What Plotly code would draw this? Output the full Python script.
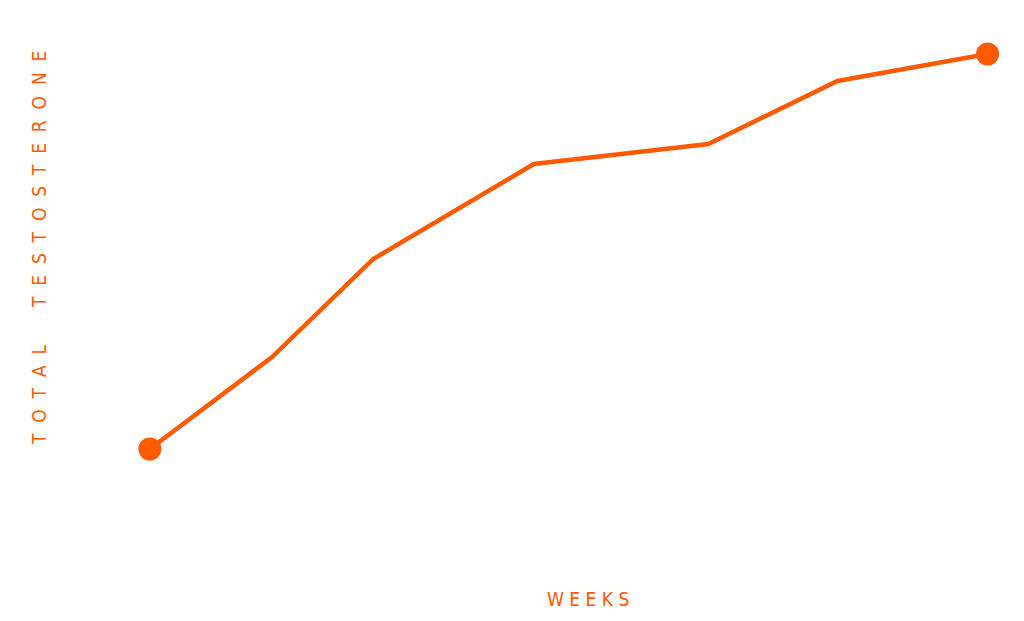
import plotly.graph_objects as go

weeks = [0, 1.75, 3.2, 5.5, 8, 9.85, 12]
testosterone = [400, 492, 590, 685, 705, 768, 795]
color = "#FF5A00"

fig = go.Figure()
fig.add_trace(go.Scatter(x=weeks, y=testosterone, mode="lines",
                         line=dict(color=color, width=4.5), hoverinfo="skip"))
fig.add_trace(go.Scatter(x=[weeks[0], weeks[-1]], y=[testosterone[0], testosterone[-1]],
                         mode="markers", marker=dict(color=color, size=23)))

def spaced(s):
    return "\u2009".join(" \u2009" if c == " " else c for c in s)

fig.update_layout(
    width=1024, height=621, showlegend=False,
    paper_bgcolor="white", plot_bgcolor="white",
    margin=dict(l=100, r=20, t=20, b=60),
    xaxis=dict(range=[-0.6, 12.35], visible=False),
    yaxis=dict(range=[280, 821], visible=False),
    annotations=[
        dict(text=" ".join("WEEKS"), x=580, y=604, xref="paper", yref="paper",
             showarrow=False, font=dict(family="Liberation Sans Narrow, DejaVu Sans Condensed", size=19, color=color)),
        dict(text="  ".join("TOTAL TESTOSTERONE").replace("    ", "      "), x=18, y=240, textangle=-90,
             showarrow=False, font=dict(family="Liberation Sans Narrow, DejaVu Sans Condensed", size=19, color=color)),
    ],
)
for a in fig.layout.annotations:
    a.xref = "paper"; a.yref = "paper"
# convert pixel positions into paper coords
fig.layout.annotations[0].x = (580 - 100) / 904
fig.layout.annotations[0].y = (621 - 60 - 604) / 541
fig.layout.annotations[1].x = (18 - 100) / 904
fig.layout.annotations[1].y = (621 - 60 - 240 - (621 - 60 - 541 - 20)) / 541
fig.layout.annotations[1].y = (561 - 240) / 541
fig.write_html("out.html")
